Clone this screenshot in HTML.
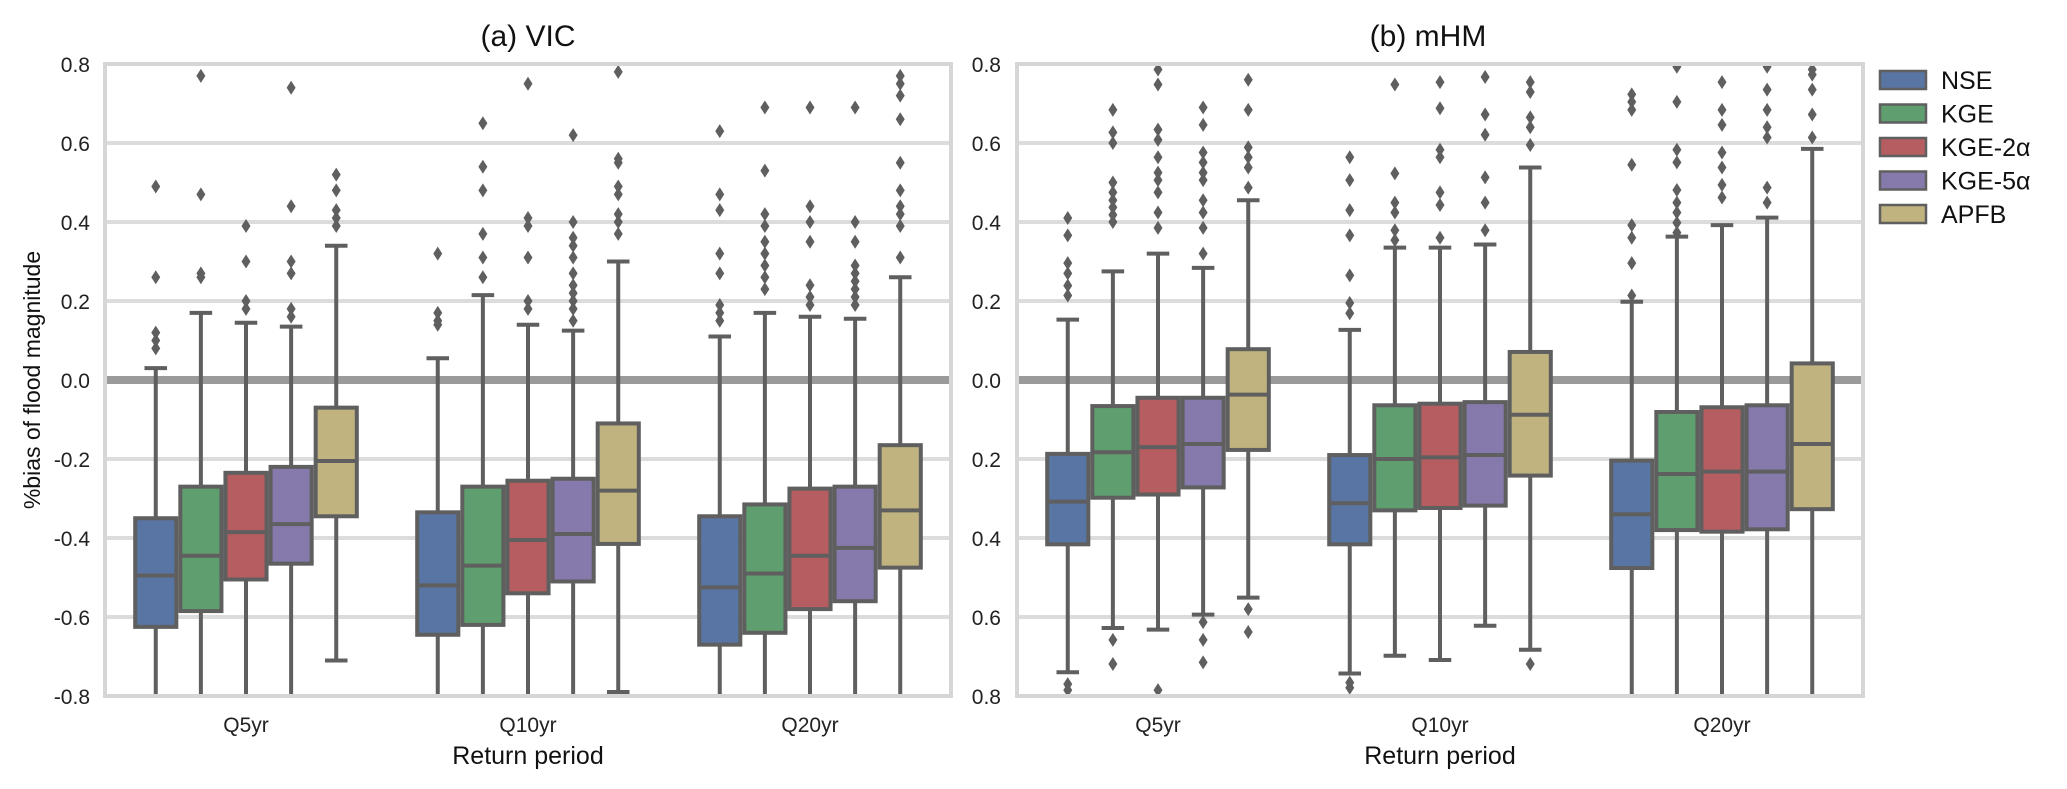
<!DOCTYPE html>
<html><head><meta charset="utf-8">
<style>
html,body{margin:0;padding:0;background:#fff;}
svg{display:block;font-family:"Liberation Sans","DejaVu Sans",sans-serif;}
</style></head>
<body>
<svg id="chart" width="2067" height="789" viewBox="0 0 2067 789"></svg>
<script>
// ---- data ----
const categories = ["Q5yr","Q10yr","Q20yr"];
const seriesNames = ["NSE","KGE","KGE-2α","KGE-5α","APFB"];
const yTicks = [0.8,0.6,0.4,0.2,0.0,-0.2,-0.4,-0.6,-0.8];
const yTickLabelsA = ["0.8","0.6","0.4","0.2","0.0","-0.2","-0.4","-0.6","-0.8"];
const yTickLabelsB = ["0.8","0.6","0.4","0.2","0.0","0.2","0.4","0.6","0.8"];
// each box: [whiskerLow, q1, median, q3, whiskerHigh]
const vicStats = [
 [[-0.8,-0.625,-0.495,-0.35,0.03],[-0.8,-0.585,-0.445,-0.27,0.17],[-0.8,-0.505,-0.385,-0.235,0.145],[-0.8,-0.465,-0.365,-0.22,0.135],[-0.71,-0.345,-0.205,-0.07,0.34]],
 [[-0.8,-0.645,-0.52,-0.335,0.055],[-0.8,-0.62,-0.47,-0.27,0.215],[-0.8,-0.54,-0.405,-0.255,0.14],[-0.8,-0.51,-0.39,-0.25,0.125],[-0.79,-0.415,-0.28,-0.11,0.30]],
 [[-0.8,-0.67,-0.525,-0.345,0.11],[-0.8,-0.64,-0.49,-0.315,0.17],[-0.8,-0.58,-0.445,-0.275,0.16],[-0.8,-0.56,-0.425,-0.27,0.155],[-0.8,-0.475,-0.33,-0.165,0.26]]
];
const vicOutliers = [
 [[0.08,0.1,0.12,0.26,0.49],[0.26,0.27,0.47,0.77],[0.18,0.2,0.3,0.39],[0.16,0.18,0.27,0.3,0.44,0.74],[0.39,0.41,0.43,0.48,0.52]],
 [[0.14,0.15,0.17,0.32],[0.26,0.31,0.37,0.48,0.54,0.65],[0.18,0.2,0.31,0.39,0.41,0.75],[0.15,0.18,0.2,0.22,0.24,0.27,0.31,0.34,0.36,0.4,0.62],[0.37,0.4,0.42,0.47,0.49,0.55,0.56,0.78]],
 [[0.15,0.17,0.19,0.27,0.32,0.43,0.47,0.63],[0.23,0.26,0.29,0.32,0.35,0.39,0.42,0.53,0.69],[0.19,0.21,0.24,0.35,0.4,0.44,0.69],[0.19,0.21,0.23,0.25,0.27,0.29,0.35,0.4,0.69],[0.31,0.39,0.42,0.44,0.48,0.55,0.66,0.72,0.75,0.77]]
];
const mhmStats = [
 [[-0.74,-0.416,-0.308,-0.187,0.153],[-0.628,-0.298,-0.183,-0.066,0.275],[-0.632,-0.29,-0.17,-0.045,0.32],[-0.594,-0.272,-0.162,-0.045,0.284],[-0.551,-0.177,-0.037,0.078,0.455]],
 [[-0.743,-0.416,-0.312,-0.19,0.127],[-0.698,-0.33,-0.2,-0.064,0.335],[-0.709,-0.324,-0.196,-0.06,0.335],[-0.622,-0.318,-0.19,-0.056,0.343],[-0.683,-0.242,-0.088,0.071,0.538]],
 [[-0.8,-0.476,-0.34,-0.204,0.198],[-0.8,-0.38,-0.238,-0.081,0.363],[-0.8,-0.384,-0.232,-0.069,0.392],[-0.8,-0.378,-0.232,-0.064,0.411],[-0.8,-0.327,-0.162,0.042,0.585]]
];
const mhmOutliers = [
 [[0.214,0.239,0.27,0.296,0.366,0.41,-0.77,-0.785],[0.4,0.418,0.437,0.455,0.475,0.5,0.6,0.627,0.684,-0.658,-0.719],[0.786,0.748,0.634,0.608,0.564,0.525,0.506,0.475,0.424,0.385,-0.785],[0.69,0.646,0.576,0.551,0.525,0.506,0.455,0.424,0.385,0.32,-0.613,-0.658,-0.715],[0.76,0.684,0.589,0.564,0.538,0.487,-0.58,-0.638]],
 [[0.564,0.506,0.43,0.366,0.265,0.195,0.169,-0.766,-0.779],[0.748,0.523,0.449,0.424,0.379,0.354],[0.754,0.688,0.583,0.564,0.475,0.443,0.36],[0.767,0.672,0.621,0.513,0.449,0.379],[0.754,0.729,0.665,0.64,0.595,-0.719]],
 [[0.723,0.704,0.684,0.545,0.392,0.36,0.296,0.214],[0.793,0.704,0.583,0.551,0.481,0.449,0.424,0.398,0.373],[0.754,0.684,0.646,0.576,0.538,0.494,0.462],[0.793,0.735,0.684,0.64,0.614,0.487,0.449],[0.786,0.773,0.735,0.672,0.614]]
];
const colors = ["#5875a4","#5f9e6e","#b55d60","#857aab","#c1b37f"];

const NS = "http://www.w3.org/2000/svg";
const svg = document.getElementById("chart");
function mk(tag, attrs, parent){
  const e = document.createElementNS(NS, tag);
  for (const k in attrs) e.setAttribute(k, attrs[k]);
  (parent||svg).appendChild(e);
  return e;
}
const LINE = "#5f5f5f";
const yTop = 64, yBot = 696;
function yScale(v){ return yTop + (0.8 - v) / 1.6 * (yBot - yTop); }

function panel(x0, x1, title, tickLabels, stats, outliers, key, titleX){
  const g = mk("g", {});
  
  
  const clipId = "clip-" + key;
  const cp = mk("clipPath", {id: clipId}, g);
  mk("rect", {x: x0, y: yTop, width: x1 - x0, height: yBot - yTop}, cp);
  // grid
  yTicks.forEach((t, i) => {
    const y = yScale(t);
    const gl = mk("line", {x1: x0, x2: x1, y1: y, y2: y, stroke: t === 0 ? "#9a9a9a" : "#dcdcdc", "stroke-width": t === 0 ? 8 : 4}, g);
    
    
    const tl = mk("text", {x: x0 === 105 ? 90 : 1001, y: y + 8, "text-anchor": "end", "font-size": 21, fill: "#222"}, g);
    tl.textContent = tickLabels[i];
    
    
  });
  const band = (x1 - x0) / categories.length;
  const bw = band * 0.8 / seriesNames.length;
  const inner = mk("g", {"clip-path": "url(#" + clipId + ")"}, g);
  categories.forEach((c, ci) => {
    const cx = x0 + band * (ci + 0.5);
    const xl = mk("text", {x: cx, y: 732, "text-anchor": "middle", "font-size": 21, fill: "#222"}, g);
    xl.textContent = c;
    
    
    seriesNames.forEach((s, si) => {
      const st = stats[ci][si];
      const bx = cx - band * 0.4 + bw * si;
      const mx = bx + bw / 2;
      const bg = mk("g", {}, inner);
      
      
      mk("line", {x1: mx, x2: mx, y1: yScale(st[0]), y2: yScale(st[1]), stroke: LINE, "stroke-width": 4}, bg);
      mk("line", {x1: mx, x2: mx, y1: yScale(st[3]), y2: yScale(st[4]), stroke: LINE, "stroke-width": 4}, bg);
      mk("line", {x1: mx - bw / 4, x2: mx + bw / 4, y1: yScale(st[0]), y2: yScale(st[0]), stroke: LINE, "stroke-width": 4}, bg);
      mk("line", {x1: mx - bw / 4, x2: mx + bw / 4, y1: yScale(st[4]), y2: yScale(st[4]), stroke: LINE, "stroke-width": 4}, bg);
      mk("rect", {x: bx + 2, y: yScale(st[3]), width: bw - 4, height: yScale(st[1]) - yScale(st[3]), fill: colors[si], stroke: LINE, "stroke-width": 4}, bg);
      mk("line", {x1: bx + 2, x2: bx + bw - 2, y1: yScale(st[2]), y2: yScale(st[2]), stroke: LINE, "stroke-width": 4}, bg);
      outliers[ci][si].forEach(o => {
        const y = yScale(o);
        const d = mk("path", {d: `M${mx} ${y-7}L${mx+4.5} ${y}L${mx} ${y+7}L${mx-4.5} ${y}Z`, fill: LINE}, bg);
        
        
      });
    });
  });
  const fr = mk("rect", {x: x0, y: yTop, width: x1 - x0, height: yBot - yTop, fill: "none", stroke: "#d6d6d6", "stroke-width": 4}, g);
  
  
  const tt = mk("text", {x: titleX, y: 46, "text-anchor": "middle", "font-size": 30, fill: "#111"}, g);
  tt.textContent = title;
  
  
  const xt = mk("text", {x: (x0 + x1) / 2, y: 764, "text-anchor": "middle", "font-size": 25, fill: "#111"}, g);
  xt.textContent = "Return period";
  
  
}
panel(105, 951, "(a) VIC", yTickLabelsA, vicStats, vicOutliers, "vic", 528);
panel(1017, 1863, "(b) mHM", yTickLabelsB, mhmStats, mhmOutliers, "mhm", 1428);

const yl = mk("text", {x: 0, y: 0, transform: "translate(40,380) rotate(-90)", "text-anchor": "middle", "font-size": 23, fill: "#111"});
yl.textContent = "%bias of flood magnitude";



// legend
const lg = mk("g", {});


seriesNames.forEach((s, i) => {
  const y = 80 + i * 33.5;
  const e = mk("g", {}, lg);
  
  
  mk("rect", {x: 1880, y: y - 9, width: 46, height: 18, fill: colors[i], stroke: LINE, "stroke-width": 2.5}, e);
  const t = mk("text", {x: 1941, y: y + 9, "font-size": 25, fill: "#111"}, e);
  t.textContent = s;
});
</script>
</body></html>
